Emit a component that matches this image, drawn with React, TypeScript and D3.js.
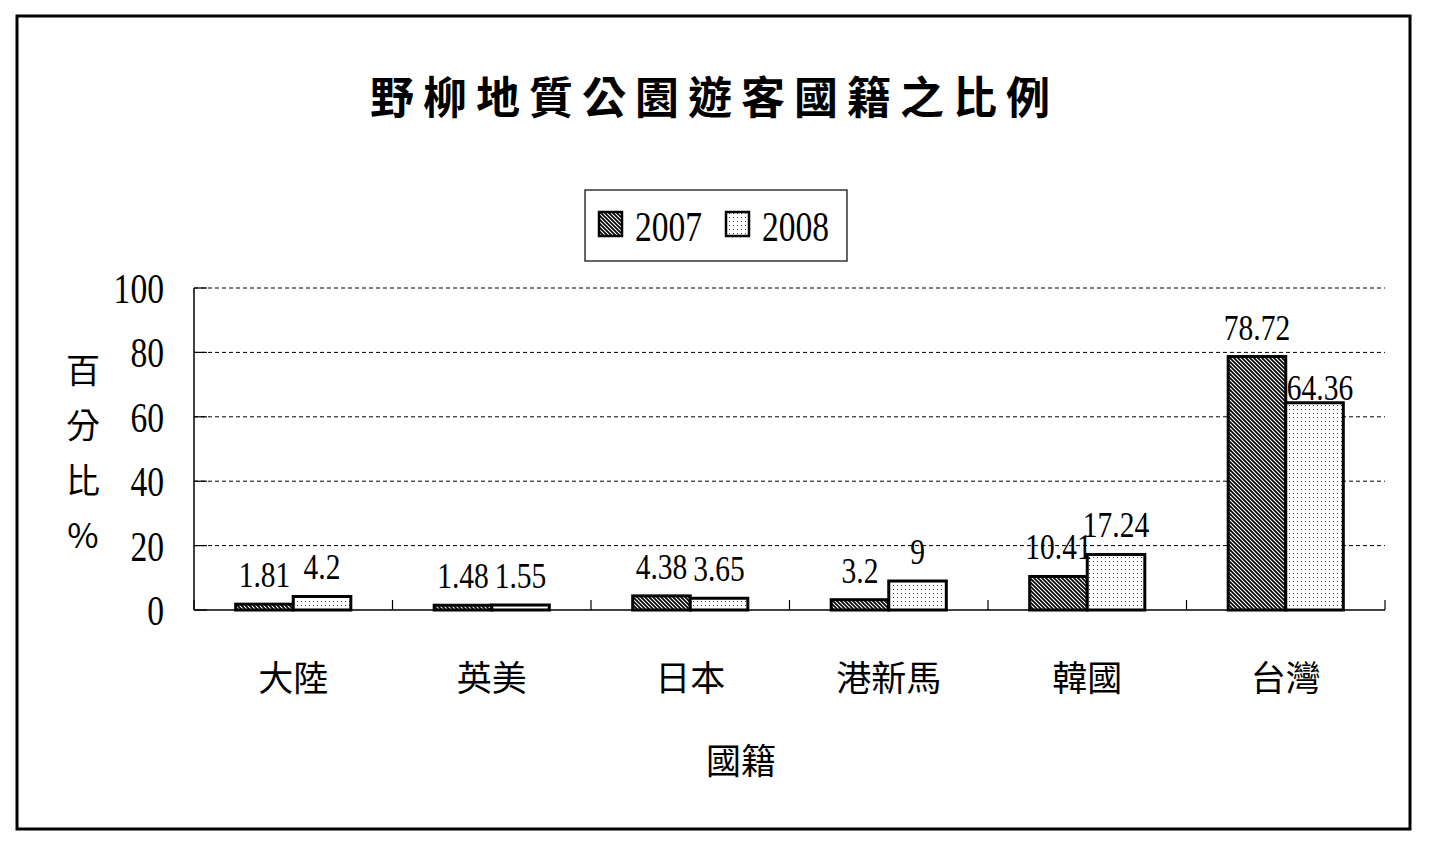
import React from "react";
import * as d3 from "d3";

const categories = ["大陸", "英美", "日本", "港新馬", "韓國", "台灣"];
const seriesNames = ["2007", "2008"];
const values2007 = [1.81, 1.48, 4.38, 3.2, 10.41, 78.72];
const values2008 = [4.2, 1.55, 3.65, 9, 17.24, 64.36];
const yTicks = [0, 20, 40, 60, 80, 100];
const titleText = "野柳地質公園遊客國籍之比例";
const yTitleChars = ["百", "分", "比", "%"];
const xTitle = "國籍";

const W = 1432;
const H = 847;
const plot = { left: 194, right: 1385, top: 288, bottom: 610 };
const NUM_FONT = "'Liberation Serif', 'Times New Roman', serif";
const CJK_FONT = "'Noto Sans CJK TC', 'Noto Sans CJK SC', sans-serif";
const SX = 0.82;

function CText(props: {
  x: number;
  y: number;
  size: number;
  anchor?: string;
  children: React.ReactNode;
  sx?: number;
}) {
  const sx = props.sx ?? SX;
  return (
    <text
      transform={`translate(${props.x},${props.y}) scale(${sx},1)`}
      textAnchor={props.anchor ?? "middle"}
      fontFamily={NUM_FONT}
      fontSize={props.size}
      fill="#000"
    >
      {props.children}
    </text>
  );
}

export default function App() {
  const x0 = d3
    .scaleBand<string>()
    .domain(categories)
    .range([plot.left, plot.right])
    .paddingInner(0)
    .paddingOuter(0);
  const bw = x0.bandwidth();
  const gw = bw * 0.58;
  const x1 = d3
    .scaleBand<string>()
    .domain(seriesNames)
    .range([(bw - gw) / 2, (bw + gw) / 2]);
  const y = d3.scaleLinear().domain([0, 100]).range([plot.bottom, plot.top]);

  const seriesValues = [values2007, values2008];
  const fills = ["url(#hatch)", "url(#dots)"];

  const boundaries = categories.map((c) => x0(c) as number).concat([plot.right]);

  return (
    <svg
      width={W}
      height={H}
      viewBox={`0 0 ${W} ${H}`}
      style={{ position: "absolute", left: 0, top: 0, background: "#fff" }}
    >
      <defs>
        <pattern id="hatch" width={4} height={4} patternUnits="userSpaceOnUse">
          <rect width={4} height={4} fill="#fff" />
          <path d="M-1,-1 L5,5 M-1,3 L1,5 M3,-1 L5,1" stroke="#000" strokeWidth={1.7} />
        </pattern>
        <pattern id="dots" width={4} height={4} patternUnits="userSpaceOnUse">
          <rect width={4} height={4} fill="#fff" />
          <rect x={1} y={1} width={1} height={1} fill="#444" />
        </pattern>
      </defs>

      <rect x={0} y={0} width={W} height={H} fill="#fff" />
      <rect x={17} y={16} width={1393} height={813} fill="none" stroke="#000" strokeWidth={3} />

      {/* Title */}
      <text
        x={370}
        y={114}
        fontFamily={CJK_FONT}
        fontWeight={700}
        fontSize={44}
        letterSpacing={9}
        fill="#000"
      >
        {titleText}
      </text>

      {/* Legend */}
      <rect x={585} y={190} width={262} height={71} fill="#fff" stroke="#000" strokeWidth={1.2} />
      {seriesNames.map((s, i) => {
        const sxPos = [599, 726][i];
        const tx = [635, 762][i];
        return (
          <g key={s}>
            <rect x={sxPos} y={212} width={23} height={24} fill={fills[i]} stroke="#000" strokeWidth={2.5} />
            <CText x={tx} y={241} size={43} anchor="start" sx={0.78}>
              {s}
            </CText>
          </g>
        );
      })}

      {/* Gridlines */}
      {yTicks
        .filter((t) => t > 0)
        .map((t) => (
          <line
            key={t}
            x1={plot.left}
            x2={plot.right}
            y1={y(t)}
            y2={y(t)}
            stroke="#000"
            strokeWidth={1}
            strokeDasharray="4,3"
          />
        ))}

      {/* Y ticks inside */}
      {yTicks.map((t) => (
        <line key={"yt" + t} x1={plot.left} x2={plot.left + 13} y1={y(t)} y2={y(t)} stroke="#000" strokeWidth={1.2} />
      ))}
      {/* Y tick labels */}
      {yTicks.map((t) => (
        <CText key={"yl" + t} x={164} y={y(t) + 15} size={42} anchor="end" sx={0.8}>
          {String(t)}
        </CText>
      ))}

      {/* Bars */}
      {seriesNames.map((s, si) =>
        categories.map((c, ci) => {
          const v = seriesValues[si][ci];
          const bx = (x0(c) as number) + (x1(s) as number);
          const by = y(v);
          return (
            <rect
              key={s + c}
              x={bx}
              y={by}
              width={x1.bandwidth()}
              height={y(0) - by}
              fill={fills[si]}
              stroke="#000"
              strokeWidth={3}
            />
          );
        })
      )}

      {/* Axes */}
      <line x1={plot.left} x2={plot.left} y1={plot.top} y2={plot.bottom} stroke="#000" strokeWidth={1.5} />
      <line x1={plot.left} x2={plot.right} y1={plot.bottom} y2={plot.bottom} stroke="#000" strokeWidth={1.5} />
      {boundaries.map((bx, i) => (
        <line key={"xt" + i} x1={bx} x2={bx} y1={plot.bottom} y2={plot.bottom - 10} stroke="#000" strokeWidth={1.2} />
      ))}

      {/* Data labels */}
      {seriesNames.map((s, si) =>
        categories.map((c, ci) => {
          const v = seriesValues[si][ci];
          const left = (x0(c) as number) + (x1(s) as number);
          const cx = left + x1.bandwidth() / 2;
          // avoid overlapping a much taller neighbouring bar
          const blocked = si === 1 && values2007[ci] > v + 10;
          return (
            <CText
              key={"dl" + s + c}
              x={blocked ? left + 1 : cx}
              y={blocked ? y(v) - 3 : y(v) - 17}
              size={36}
              anchor={blocked ? "start" : "middle"}
              sx={0.82}
            >
              {String(v)}
            </CText>
          );
        })
      )}

      {/* Category labels */}
      {categories.map((c) => (
        <text
          key={"cl" + c}
          x={(x0(c) as number) + bw / 2}
          y={675}
          dominantBaseline="central"
          textAnchor="middle"
          fontFamily={CJK_FONT}
          fontSize={35}
          fill="#000"
        >
          {c}
        </text>
      ))}

      {/* X title */}
      <text
        x={741}
        y={758}
        dominantBaseline="central"
        textAnchor="middle"
        fontFamily={CJK_FONT}
        fontSize={35}
        fill="#000"
      >
        {xTitle}
      </text>

      {/* Y title */}
      {yTitleChars.map((ch, i) => (
        <text
          key={"yc" + i}
          x={83}
          y={368 + i * 55}
          dominantBaseline="central"
          textAnchor="middle"
          fontFamily={CJK_FONT}
          fontSize={34}
          fill="#000"
        >
          {ch}
        </text>
      ))}
    </svg>
  );
}
